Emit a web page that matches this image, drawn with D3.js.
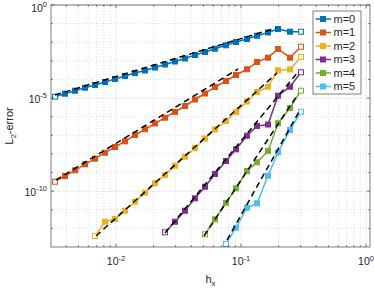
<!DOCTYPE html>
<html>
<head>
<meta charset="utf-8">
<script src="https://cdnjs.cloudflare.com/ajax/libs/d3/7.8.5/d3.min.js"></script>
<style>
body { margin: 0; background: #fff; }
text { font-family: "Liberation Sans", Arial, sans-serif; fill: #262626; }
</style>
</head>
<body>
<svg id="chart" width="374" height="289"></svg>
<script>
// mesh sizes shared by all runs
var hx = [0.003251, 0.003908, 0.004699, 0.005649, 0.006792, 0.008166, 0.009817, 0.01180,
          0.01419, 0.01706, 0.02051, 0.02466, 0.02965, 0.03565, 0.04285, 0.05152, 0.06194,
          0.07586, 0.09120, 0.1117, 0.1343, 0.1644, 0.1977, 0.2466, 0.3020];

// L2 errors, each series starts at index starts[i] of hx
var err_m0 = [1.19e-5, 1.72e-5, 2.49e-5, 3.61e-5, 5.04e-5, 7.31e-5, 1.06e-4, 1.54e-4, 2.22e-4,
              3.03e-4, 4.39e-4, 6.37e-4, 9.23e-4, 1.34e-3, 2.06e-3, 2.99e-3, 4.49e-3, 6.84e-3,
              1.03e-2, 1.49e-2, 2.24e-2, 3.33e-2, 5.14e-2, 3.68e-2, 3.68e-2];
var err_m1 = [3.22e-10, 6.52e-10, 1.32e-9, 2.77e-9, 5.53e-9, 1.16e-8, 2.35e-8, 4.76e-8, 1.04e-7,
              2.10e-7, 4.31e-7, 8.82e-7, 1.81e-6, 3.75e-6, 8.38e-6, 1.76e-5, 3.94e-5, 8.26e-5,
              1.74e-4, 3.52e-4, 8.67e-4, 1.48e-3, 4.33e-3, 1.48e-3, 5.75e-3];
var err_m2 = [3.90e-13, 2.29e-12, 3.19e-12, 8.91e-12, 2.71e-11, 8.26e-11, 2.64e-10, 7.38e-10,
              2.33e-9, 7.10e-9, 2.08e-8, 6.73e-8, 2.05e-7, 5.86e-7, 1.79e-6, 6.55e-6, 2.12e-5,
              4.08e-5, 3.10e-4, 3.43e-4, 1.61e-3];
var err_m3 = [6.15e-13, 2.29e-12, 8.91e-12, 4.13e-11, 1.73e-10, 8.34e-10, 4.17e-9, 1.77e-8,
              9.52e-8, 3.16e-7, 3.80e-7, 1.34e-5, 4.08e-5, 2.43e-4];
var err_m4 = [4.81e-13, 3.08e-12, 2.39e-11, 1.42e-10, 1.21e-9, 3.55e-9, 1.44e-8, 4.42e-7,
              2.93e-6, 2.49e-5];
var err_m5 = [1.45e-13, 1.09e-12, 1.29e-11, 2.22e-11, 6.76e-10, 1.22e-8, 1.93e-7, 1.85e-6];

var names = ["m=0", "m=1", "m=2", "m=3", "m=4", "m=5"];
var starts = [0, 0, 4, 11, 15, 17];
var colors = ["#0072BD", "#D95319", "#EDB120", "#7E2F8E", "#77AC30", "#4DBEEE"];

// dashed rate lines: end points (h, error)
var refH = [[0.003251, 0.1905], [0.003311, 0.09462], [0.006918, 0.1941],
            [0.02466, 0.2858], [0.05058, 0.2858], [0.07727, 0.2965]];
var refE = [[1.46e-5, 5.81e-2], [3.97e-10, 3.65e-4], [3.90e-13, 2.22e-4],
            [5.65e-13, 2.52e-4], [3.90e-13, 1.66e-5], [2.38e-13, 2.29e-6]];

var xTicks = [1e-2, 1e-1, 1e0];
var xTickExp = ["-2", "-1", "0"];
var yTicks = [1e-10, 1e-5, 1e0];
var yTickExp = ["-10", "-5", "0"];

var pLeft = 51, pRight = 370, pTop = 5, pBottom = 247;
var svg = d3.select("#chart");

var x = d3.scaleLog().domain([0.00302, 1.076]).range([pLeft, pRight]);
var y = d3.scaleLog().domain([1e-13, 1]).range([pBottom, pTop]);

var allErr = [err_m0, err_m1, err_m2, err_m3, err_m4, err_m5];
var data = allErr.map(function(e, i) {
    return e.map(function(v, j) { return {h: hx[starts[i] + j], e: v}; });
});

// grid
var grid = svg.append("g");
var xMinor = [];
[1e-3, 1e-2, 1e-1].forEach(function(d) {
    for (var k = 2; k <= 9; k++) {
        if (d * k >= 0.00302 && d * k < 1) xMinor.push(d * k);
    }
});
var yMinor = [];
for (var p = -12; p <= -1; p++) {
    if (p != -10 && p != -5) yMinor.push(Math.pow(10, p));
}
grid.selectAll(".xmin").data(xMinor).enter().append("line")
    .attr("x1", function(d) { return x(d); }).attr("x2", function(d) { return x(d); })
    .attr("y1", pTop).attr("y2", pBottom)
    .attr("stroke", "#1a1a1a").attr("stroke-opacity", 0.25).attr("stroke-width", 0.6)
    .attr("stroke-dasharray", "1,2");
grid.selectAll(".ymin").data(yMinor).enter().append("line")
    .attr("x1", pLeft).attr("x2", pRight)
    .attr("y1", function(d) { return y(d); }).attr("y2", function(d) { return y(d); })
    .attr("stroke", "#1a1a1a").attr("stroke-opacity", 0.25).attr("stroke-width", 0.6)
    .attr("stroke-dasharray", "1,2");
grid.selectAll(".xmaj").data(xTicks).enter().append("line")
    .attr("x1", function(d) { return x(d); }).attr("x2", function(d) { return x(d); })
    .attr("y1", pTop).attr("y2", pBottom)
    .attr("stroke", "#262626").attr("stroke-opacity", 0.15).attr("stroke-width", 0.6);
grid.selectAll(".ymaj").data(yTicks).enter().append("line")
    .attr("x1", pLeft).attr("x2", pRight)
    .attr("y1", function(d) { return y(d); }).attr("y2", function(d) { return y(d); })
    .attr("stroke", "#262626").attr("stroke-opacity", 0.15).attr("stroke-width", 0.6);

// series
var line = d3.line().x(function(d) { return x(d.h); }).y(function(d) { return y(d.e); });
var ms = 5;
data.forEach(function(s, i) {
    var g = svg.append("g");
    g.append("path").datum(s).attr("d", line)
        .attr("fill", "none").attr("stroke", colors[i]).attr("stroke-width", 1.5);
    g.selectAll("rect").data(s).enter().append("rect")
        .attr("x", function(d) { return x(d.h) - ms / 2; })
        .attr("y", function(d) { return y(d.e) - ms / 2; })
        .attr("width", ms).attr("height", ms)
        .attr("fill", function(d, j) { return (j == 0 || j == s.length - 1) ? "#fff" : colors[i]; })
        .attr("stroke", colors[i]).attr("stroke-width", 1);
});

// dashed reference lines
refH.forEach(function(h, i) {
    svg.append("line")
        .attr("x1", x(h[0])).attr("y1", y(refE[i][0]))
        .attr("x2", x(h[1])).attr("y2", y(refE[i][1]))
        .attr("stroke", "#000").attr("stroke-width", 1.5)
        .attr("stroke-dasharray", "6,4");
});

// box and ticks
var ax = svg.append("g").attr("stroke", "#262626").attr("stroke-width", 0.6);
ax.append("rect").attr("x", pLeft).attr("y", pTop)
    .attr("width", pRight - pLeft).attr("height", pBottom - pTop).attr("fill", "none");
function xTickMarks(vals, len) {
    vals.forEach(function(d) {
        ax.append("line").attr("x1", x(d)).attr("x2", x(d)).attr("y1", pBottom).attr("y2", pBottom - len);
        ax.append("line").attr("x1", x(d)).attr("x2", x(d)).attr("y1", pTop).attr("y2", pTop + len);
    });
}
function yTickMarks(vals, len) {
    vals.forEach(function(d) {
        ax.append("line").attr("y1", y(d)).attr("y2", y(d)).attr("x1", pLeft).attr("x2", pLeft + len);
        ax.append("line").attr("y1", y(d)).attr("y2", y(d)).attr("x1", pRight).attr("x2", pRight - len);
    });
}
xTickMarks(xTicks, 3.2);
xTickMarks(xMinor, 1.8);
yTickMarks(yTicks, 3.2);
yTickMarks(yMinor, 1.8);

// tick labels
xTicks.forEach(function(d, i) {
    var t = svg.append("text").attr("x", x(d)).attr("y", 265).attr("text-anchor", "middle")
        .style("font-size", "10.5px");
    t.append("tspan").text("10");
    t.append("tspan").attr("dy", -4.5).style("font-size", "7.5px").text(xTickExp[i]);
});
yTicks.forEach(function(d, i) {
    // the top label is pushed down so its exponent stays inside the figure
    var t = svg.append("text").attr("x", 47).attr("y", Math.max(y(d) + 4.5, 11.8))
        .attr("text-anchor", "end").style("font-size", "10.5px");
    t.append("tspan").text("10");
    t.append("tspan").attr("dy", -4.5).style("font-size", "7.5px").text(yTickExp[i]);
});

// axis labels
var xl = svg.append("text").attr("x", (pLeft + pRight) / 2).attr("y", 283)
    .attr("text-anchor", "middle").style("font-size", "11px");
xl.append("tspan").text("h");
xl.append("tspan").attr("dy", 3).style("font-size", "8px").text("x");

var yl = svg.append("text").attr("transform", "translate(13," + (pTop + pBottom) / 2 + ") rotate(-90)")
    .attr("text-anchor", "middle").style("font-size", "11px");
yl.append("tspan").text("L");
yl.append("tspan").attr("dy", 3).style("font-size", "8px").text("2");
yl.append("tspan").attr("dy", -3).text("-error");

// legend
var lg = svg.append("g");
lg.append("rect").attr("x", 313).attr("y", 11).attr("width", 48).attr("height", 83)
    .attr("fill", "#fff").attr("stroke", "#262626").attr("stroke-width", 0.6);
names.forEach(function(n, i) {
    var yy = 19 + 13.5 * i;
    lg.append("line").attr("x1", 315.5).attr("x2", 331).attr("y1", yy).attr("y2", yy)
        .attr("stroke", colors[i]).attr("stroke-width", 1.5);
    lg.append("rect").attr("x", 323 - ms / 2).attr("y", yy - ms / 2).attr("width", ms).attr("height", ms)
        .attr("fill", colors[i]).attr("stroke", colors[i]);
    lg.append("text").attr("x", 333.5).attr("y", yy + 3.8).style("font-size", "11px").text(n);
});
</script>
</body>
</html>
